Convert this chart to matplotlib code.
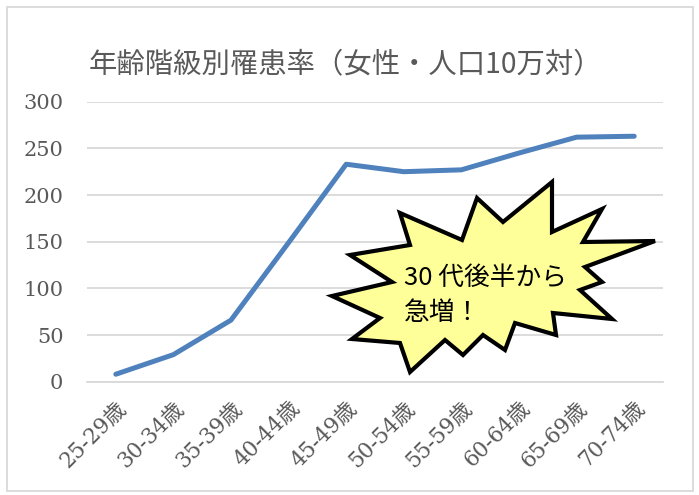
### Libraries ###
import matplotlib
matplotlib.use("Agg")
import matplotlib.pyplot as plt
from matplotlib.patches import Polygon, Rectangle


# ------ DATA ------
age_groups = ["25-29歳", "30-34歳", "35-39歳", "40-44歳", "45-49歳",
              "50-54歳", "55-59歳", "60-64歳", "65-69歳", "70-74歳"]
incidence = [8, 29, 66, 149, 233, 225, 227, 245, 262, 263]
y_ticks = [0, 50, 100, 150, 200, 250, 300]

title_text = "年齢階級別罹患率（女性・人口10万対）"
callout_text = "30 代後半から\n急増！"

# starburst outline in figure pixels (x from left, y from top)
burst_px = [(552, 182), (552, 232), (602, 209), (583, 242), (655, 241), (585, 267),
            (602, 282), (580, 290), (612, 319), (553, 313), (556, 335), (515, 323),
            (505, 350), (483, 335), (463, 355), (445, 340), (410, 372), (400, 343),
            (352, 339), (380, 318), (332, 296), (392, 282), (350, 255), (410, 245),
            (400, 213), (462, 240), (477, 198), (503, 222)]


# ------ STYLE ------
W, H = 699, 495
grey = "#595959"
grid_col = "#D9D9D9"
line_col = "#4F81BD"
serif_fonts = ["DejaVu Serif", "Noto Sans CJK JP"]
sans_fonts = ["Noto Sans CJK JP", "DejaVu Sans"]

def px(x, y):
	'''pixel position (top-left origin) -> figure fraction'''
	return x / W, 1 - y / H


# ------ FIGURE ------
fig = plt.figure(figsize=(W / 100, H / 100), dpi=100)
ax = fig.add_axes([87 / W, (H - 381.7) / H, (663 - 87) / W, (381.7 - 101.7) / H])

x = list(range(len(age_groups)))
ax.plot(x, incidence, color=line_col, lw=3.6, solid_capstyle="round", solid_joinstyle="round", zorder=3)

ax.set_xlim(-0.5, len(age_groups) - 0.5)
ax.set_ylim(0, 300)
ax.set_yticks(y_ticks)
ax.set_yticklabels([str(v) for v in y_ticks], family=serif_fonts, fontsize=15, color=grey)
ax.set_xticks(x)
ax.set_xticklabels(age_groups, family=serif_fonts, fontsize=15.5, color=grey,
                   rotation=45, ha="right", va="top", rotation_mode="anchor")
ax.tick_params(axis="y", length=0, pad=17)
ax.tick_params(axis="x", length=0, pad=11)

ax.grid(axis="y", color=grid_col, lw=1.3)
ax.set_axisbelow(True)
for s in ax.spines.values():
	s.set_visible(False)
ax.spines["bottom"].set_visible(True)
ax.spines["bottom"].set_color(grid_col)
ax.spines["bottom"].set_linewidth(1.3)

# Title
tx, ty = px(345, 64)
fig.text(tx, ty, title_text, ha="center", va="center", fontsize=20.4, color=grey, family=sans_fonts)

# Callout starburst
burst = Polygon([px(a, b) for a, b in burst_px], closed=True, transform=fig.transFigure,
                facecolor="#FFFF99", edgecolor="black", lw=3, joinstyle="miter", zorder=5)
fig.add_artist(burst)
cx, cy = px(404, 295)
fig.text(cx, cy, callout_text, ha="left", va="center", fontsize=18.5, color="black",
         family=sans_fonts, linespacing=1.45, zorder=6)

# Chart frame
rx, ry = px(7, 491)
fig.add_artist(Rectangle((rx, ry), (693 - 7) / W, (491 - 7) / H, transform=fig.transFigure,
                         fill=False, edgecolor=grid_col, lw=1.3, zorder=0))

fig.savefig("out.png", dpi=100)
